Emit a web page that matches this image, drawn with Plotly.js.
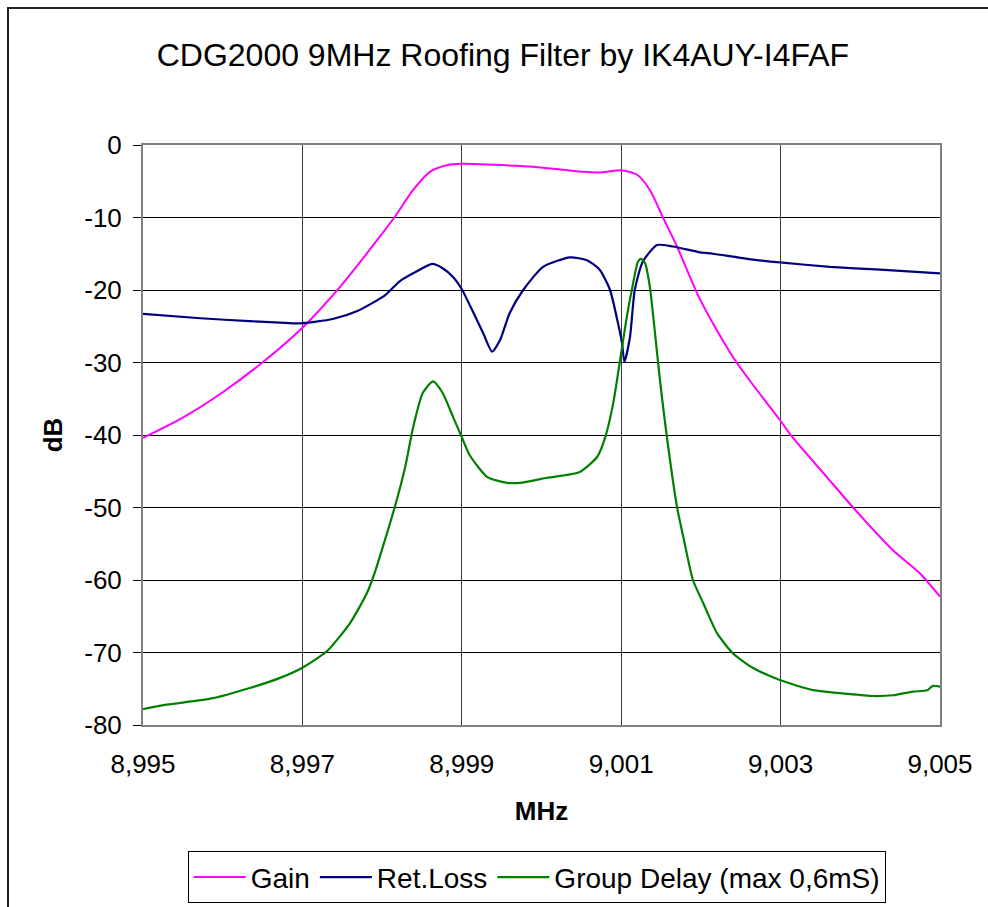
<!DOCTYPE html>
<html>
<head>
<meta charset="utf-8">
<script src="https://cdn.plot.ly/plotly-3.0.1.min.js"></script>
<style>
  html, body { margin: 0; padding: 0; background: #fff; }
  #wrap { position: relative; width: 988px; height: 907px; overflow: hidden; }
  #chart { width: 988px; height: 907px; }
  #frame { position: absolute; left: 7px; top: 7px; width: 1200px; height: 1200px;
           border-left: 2px solid #222; border-top: 2px solid #222; pointer-events: none; }
</style>
</head>
<body>
<div id="wrap">
  <div id="chart"></div>
  <div id="frame"></div>
</div>
<script>
// ---- Data (MHz, dB) ----
const gainFreq = [8.99500, 8.99550, 8.99600, 8.99651, 8.99701, 8.99747, 8.99794, 8.99816, 8.99839, 8.99860,
                  8.99881, 8.99900, 8.99973, 8.99989, 9.00052, 9.00073, 9.00101, 9.00120, 9.00136, 9.00152,
                  9.00170, 9.00195, 9.00215, 9.00240, 9.00264, 9.00299, 9.00312, 9.00358, 9.00391, 9.00441,
                  9.00475, 9.00500];
const gainDb   = [-40.4, -37.6, -34.1, -29.9, -25.1, -19.6, -13.1, -9.9, -6.2, -3.7,
                  -2.8, -2.6, -2.9, -3.0, -3.7, -3.8, -3.5, -4.1, -6.2, -9.9,
                  -14.0, -20.4, -24.6, -29.2, -32.9, -37.9, -39.9, -45.8, -50.0, -55.9,
                  -59.1, -62.3];

const retFreq = [8.99500, 8.99572, 8.99634, 8.99672, 8.99697, 8.99738, 8.99769, 8.99804, 8.99822, 8.99839,
                 8.99863, 8.99876, 8.99889, 8.99900, 8.99914, 8.99927, 8.99938, 8.99948, 8.99960, 8.99977,
                 9.00002, 9.00036, 9.00057, 9.00073, 9.00086, 9.00096, 9.00101, 9.00104, 9.00111, 9.00117,
                 9.00127, 9.00145, 9.00165, 9.00199, 9.00215, 9.00258, 9.00299, 9.00362, 9.00425, 9.00500];
const retDb   = [-23.3, -23.9, -24.3, -24.5, -24.6, -24.0, -22.9, -20.7, -18.8, -17.7,
                 -16.4, -17.0, -18.2, -19.9, -23.0, -26.0, -28.5, -26.9, -23.2, -20.0,
                 -16.8, -15.5, -15.9, -17.2, -20.0, -24.6, -27.3, -29.9, -26.5, -20.0,
                 -16.1, -13.8, -14.0, -14.8, -15.0, -15.7, -16.2, -16.8, -17.2, -17.7];

const gdFreq = [8.99500, 8.99530, 8.99588, 8.99634, 8.99672, 8.99700, 8.99731, 8.99760, 8.99781, 8.99791,
                8.99801, 8.99816, 8.99829, 8.99839, 8.99851, 8.99864, 8.99876, 8.99889, 8.99900, 8.99910,
                8.99932, 8.99957, 8.99973, 9.00007, 9.00048, 9.00070, 9.00080, 9.00090, 9.00098, 9.00107,
                9.00114, 9.00121, 9.00125, 9.00130, 9.00136, 9.00142, 9.00149, 9.00157, 9.00170, 9.00178,
                9.00190, 9.00203, 9.00220, 9.00240, 9.00265, 9.00299, 9.00341, 9.00383, 9.00416, 9.00441,
                9.00466, 9.00484, 9.00491, 9.00500];
const gdDb   = [-77.8, -77.2, -76.3, -74.9, -73.5, -72.1, -69.8, -65.9, -61.8, -58.9,
                -55.4, -49.9, -44.4, -38.9, -34.2, -32.6, -34.2, -37.5, -40.3, -42.8,
                -45.8, -46.6, -46.6, -45.9, -45.1, -43.0, -40.3, -35.6, -30.1, -23.7,
                -19.6, -16.1, -15.7, -16.3, -19.6, -25.5, -32.8, -40.0, -49.9, -54.1,
                -60.0, -63.2, -67.3, -70.1, -72.1, -73.8, -75.2, -75.7, -76.0, -75.9,
                -75.4, -75.2, -74.6, -74.7];

const seriesNames = ["Gain", "Ret.Loss", "Group Delay (max 0,6mS)"];
const xTickVals = [8.995, 8.997, 8.999, 9.001, 9.003, 9.005];
const xTickText = ["8,995", "8,997", "8,999", "9,001", "9,003", "9,005"];
const yTickVals = [0, -10, -20, -30, -40, -50, -60, -70, -80];
const yTickText = ["0", "-10", "-20", "-30", "-40", "-50", "-60", "-70", "-80"];

const FONT = "'Liberation Sans', Arial, sans-serif";

const traces = [
  { x: gainFreq, y: gainDb, name: seriesNames[0], type: "scatter", mode: "lines",
    line: { color: "#FF00FF", width: 2, shape: "spline", smoothing: 0.7 } },
  { x: retFreq, y: retDb, name: seriesNames[1], type: "scatter", mode: "lines",
    line: { color: "#000080", width: 2.2, shape: "spline", smoothing: 0.6 } },
  { x: gdFreq, y: gdDb, name: seriesNames[2], type: "scatter", mode: "lines",
    line: { color: "#008000", width: 2.2, shape: "spline", smoothing: 0.6 } }
];

const layout = {
  width: 988, height: 907,
  paper_bgcolor: "#fff", plot_bgcolor: "#fff",
  margin: { l: 143, r: 48, t: 145, b: 182, pad: 0 },
  font: { family: FONT, color: "#000", size: 26 },
  title: { text: "CDG2000 9MHz Roofing Filter by IK4AUY-I4FAF",
           font: { family: FONT, size: 32, color: "#000" },
           x: 0.509, xanchor: "center", xref: "container",
           y: 0.94, yanchor: "middle", yref: "container" },
  showlegend: true,
  legend: { orientation: "h", x: 0.494, xanchor: "center", xref: "paper",
            y: 0.004, yanchor: "bottom", yref: "container",
            itemwidth: 52,
            bordercolor: "#000", borderwidth: 1, bgcolor: "#fff",
            font: { family: FONT, size: 28, color: "#000" } },
  xaxis: {
    range: [8.995, 9.005], tickmode: "array", tickvals: xTickVals, ticktext: xTickText,
    showgrid: true, gridcolor: "#3a3a3a", gridwidth: 1,
    showline: true, linecolor: "#808080", linewidth: 2, mirror: true,
    ticks: "", ticklabelstandoff: 15, zeroline: false,
    tickfont: { family: FONT, size: 26, color: "#000" },
    title: { text: "<b>MHz</b>", font: { family: FONT, size: 26, color: "#000" }, standoff: 24 }
  },
  yaxis: {
    range: [-80, 0], tickmode: "array", tickvals: yTickVals, ticktext: yTickText,
    showgrid: true, gridcolor: "#000", gridwidth: 1,
    showline: true, linecolor: "#808080", linewidth: 2, mirror: true,
    ticks: "outside", ticklen: 8, tickwidth: 1, tickcolor: "#000",
    ticklabelstandoff: 6, zeroline: false,
    tickfont: { family: FONT, size: 26, color: "#000" },
    title: { text: "<b>dB</b>", font: { family: FONT, size: 26, color: "#000" }, standoff: 14 }
  }
};

Plotly.newPlot("chart", traces, layout, { displayModeBar: false, staticPlot: true });
</script>
</body>
</html>
